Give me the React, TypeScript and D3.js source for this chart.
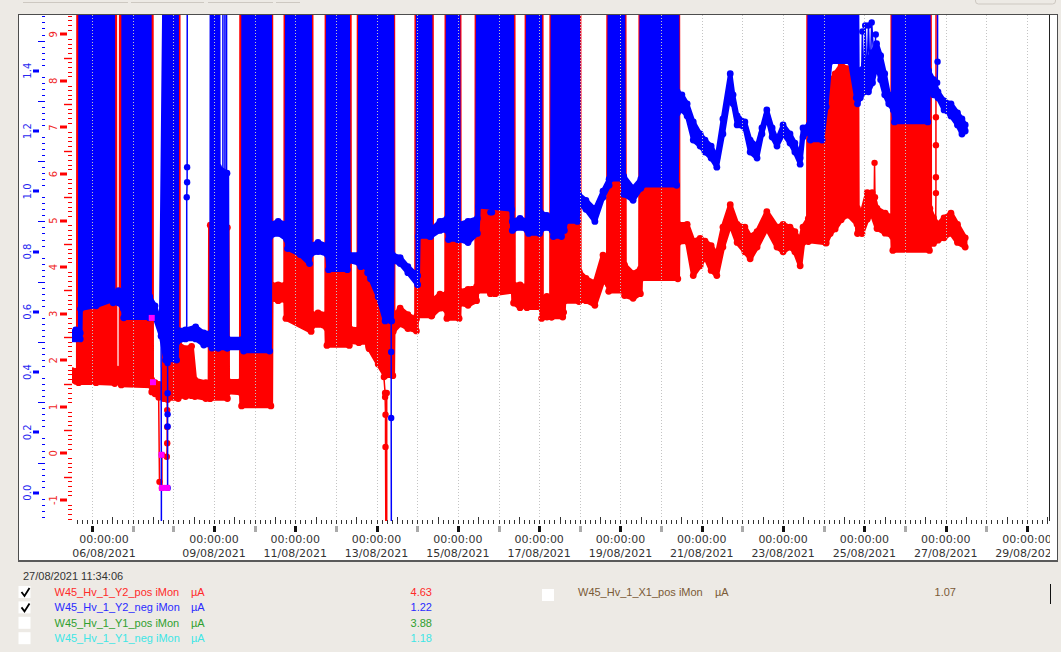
import React, { useEffect, useRef } from 'react';
import * as d3 from 'd3';

const W = 1061;
const H = 652;

// time stamp of the cursor and the labelled days on the time axis (day of August 2021)
const stamp = '27/08/2021 11:34:06';
const labelDays = [6, 9, 11, 13, 15, 17, 19, 21, 23, 25, 27, 29];
const blueTickValues = [0, 0.2, 0.4, 0.6, 0.8, 1.0, 1.2, 1.4];
const redTickValues = [-1, 0, 1, 2, 3, 4, 5, 6, 7, 8, 9];

// [day of August, low, high] envelope of the noisy trace; high above the axis top = spike off scale
const redBand = [
  [5.51, 1.58, 1.78], [5.6, 1.55, 1.76], [5.66, 1.56, 1.78], [5.67, 1.52, 12], [6.1, 1.52, 12],
  [6.56, 1.5, 12], [6.57, 1.55, 1.82], [6.71, 1.55, 1.82], [6.72, 1.47, 12], [7.46, 1.45, 12],
  [7.47, 1.32, 1.58], [7.55, 1.28, 1.52], [7.65, 1.24, 1.48], [7.77, 1.18, 1.45], [7.78, 1.18, 12],
  [8.12, 1.18, 12], [8.13, 1.22, 2.35], [8.3, 1.22, 2.25], [8.45, 1.24, 2.3], [8.53, 1.22, 1.58],
  [8.8, 1.18, 1.52], [8.9, 1.18, 1.52], [8.91, 1.18, 4.9], [9.33, 1.18, 4.85], [9.34, 1.32, 1.55],
  [9.67, 1.3, 1.55], [9.68, 1.02, 12], [10.4, 1.02, 12], [10.41, 3.32, 3.62], [10.58, 3.28, 3.62],
  [10.76, 3.3, 3.62], [10.77, 2.9, 12], [11.39, 2.62, 12], [11.4, 2.72, 2.98], [11.56, 2.77, 3.02],
  [11.77, 2.7, 2.98], [11.78, 2.32, 12], [12.33, 2.32, 12], [12.34, 2.4, 2.68], [12.56, 2.38, 2.66],
  [12.57, 2.38, 12], [12.79, 2.38, 12], [12.8, 2.32, 2.52], [12.81, 2.27, 2.48], [12.82, 2.25, 12],
  [13.04, 1.92, 12], [13.21, 1.67, 12], [13.4, 1.67, 12], [13.41, 2.62, 2.92], [13.58, 2.78, 3.12],
  [13.77, 2.68, 2.98], [13.98, 2.63, 2.88], [13.99, 2.95, 12], [14.35, 2.95, 12], [14.36, 2.96, 3.28],
  [14.56, 3.12, 3.42], [14.72, 3.08, 3.42], [14.73, 2.9, 12], [15.03, 2.9, 12], [15.04, 3.22, 3.48],
  [15.25, 3.18, 3.52], [15.46, 3.28, 3.58], [15.47, 3.48, 12], [15.79, 3.48, 12], [15.8, 3.43, 5.25],
  [15.91, 3.43, 5.25], [15.92, 3.43, 12], [16.36, 3.48, 12], [16.37, 3.23, 3.62], [16.53, 3.13, 3.62],
  [16.69, 3.18, 3.58], [16.7, 3.13, 12], [17.05, 3.13, 12], [17.06, 2.9, 3.33], [17.19, 2.93, 3.37],
  [17.3, 2.93, 3.33], [17.31, 2.93, 12], [17.58, 2.93, 12], [17.59, 3.03, 3.37], [17.6, 3.03, 3.37],
  [17.61, 3.26, 12], [17.98, 3.26, 12], [17.99, 3.28, 3.9], [18.15, 3.28, 3.76], [18.37, 3.18, 3.66],
  [18.57, 3.7, 4.26], [18.7, 3.63, 4.16], [18.71, 3.48, 12], [19.09, 3.48, 12], [19.1, 3.39, 4.05],
  [19.31, 3.33, 3.86], [19.49, 3.43, 3.96], [19.5, 3.75, 12], [20.41, 3.75, 12], [20.42, 4.53, 4.92],
  [20.64, 4.55, 4.92], [20.79, 3.82, 4.56], [20.96, 4.03, 4.62], [21.08, 4.23, 4.56], [21.23, 3.93, 4.46],
  [21.37, 3.82, 4.26], [21.52, 4.43, 4.86], [21.7, 4.93, 5.34], [21.87, 4.53, 4.92], [22.06, 4.33, 4.86],
  [22.19, 4.18, 4.66], [22.36, 4.43, 4.76], [22.6, 4.83, 5.19], [22.85, 4.43, 4.86], [23.0, 4.33, 4.92],
  [23.17, 4.43, 4.86], [23.29, 4.33, 4.76], [23.42, 4.03, 4.56], [23.49, 4.53, 4.86], [23.62, 4.55, 5.04],
  [23.63, 4.56, 12], [24.05, 4.52, 12], [24.06, 4.52, 7.4], [24.16, 4.72, 7.98], [24.28, 4.82, 8.15],
  [24.43, 5.02, 8.34], [24.6, 5.12, 8.26], [24.82, 4.92, 8.15], [24.83, 4.72, 5.26], [24.94, 4.72, 5.16],
  [25.07, 5.03, 5.6], [25.19, 5.13, 5.6], [25.31, 4.83, 5.26], [25.51, 4.73, 5.16], [25.69, 4.66, 5.06],
  [25.7, 4.36, 12], [26.6, 4.36, 12], [26.61, 4.53, 5.26], [26.7, 4.51, 5.06], [26.81, 4.58, 4.92],
  [26.96, 4.63, 5.06], [27.13, 4.73, 5.16], [27.29, 4.53, 4.92], [27.48, 4.43, 4.63],
];

const blueBand = [
  [5.51, 0.51, 0.53], [5.6, 0.51, 0.54], [5.71, 0.51, 0.53], [5.72, 0.61, 2], [6.1, 0.62, 2],
  [6.51, 0.64, 2], [6.52, 0.63, 0.66], [6.65, 0.63, 0.67], [6.77, 0.61, 0.65], [6.78, 0.58, 2],
  [7.41, 0.58, 2], [7.42, 0.61, 0.65], [7.55, 0.58, 0.62], [7.7, 0.52, 0.55], [7.81, 0.44, 2],
  [8.08, 0.44, 2], [8.09, 0.5, 0.54], [8.3, 0.51, 0.54], [8.55, 0.51, 0.55], [8.75, 0.49, 0.53],
  [8.94, 0.49, 0.53], [8.95, 0.48, 2], [9.1, 0.48, 2], [9.11, 0.48, 1.08], [9.32, 0.48, 1.06],
  [9.33, 0.48, 0.51], [9.72, 0.48, 0.51], [9.73, 0.47, 2], [10.37, 0.47, 2], [10.38, 0.85, 0.89],
  [10.58, 0.86, 0.9], [10.79, 0.84, 0.89], [10.81, 0.81, 2], [11.12, 0.79, 2], [11.35, 0.76, 2],
  [11.37, 0.79, 0.82], [11.56, 0.8, 0.83], [11.79, 0.79, 0.82], [11.82, 0.74, 2], [12.28, 0.74, 2],
  [12.31, 0.77, 0.79], [12.58, 0.76, 0.79], [12.61, 0.75, 2], [12.75, 0.75, 2], [12.78, 0.73, 0.76],
  [12.85, 0.71, 2], [13.04, 0.65, 2], [13.21, 0.57, 2], [13.37, 0.57, 2], [13.39, 0.77, 0.79],
  [13.58, 0.76, 0.78], [13.77, 0.73, 0.75], [14.01, 0.69, 0.72], [14.03, 0.85, 2], [14.31, 0.85, 2],
  [14.33, 0.85, 0.87], [14.56, 0.87, 0.9], [14.74, 0.87, 0.91], [14.77, 0.84, 2], [14.99, 0.84, 2],
  [15.02, 0.84, 0.89], [15.25, 0.83, 0.9], [15.48, 0.86, 0.91], [15.51, 0.95, 2], [16.32, 0.94, 2],
  [16.34, 0.87, 0.9], [16.53, 0.88, 0.91], [16.71, 0.87, 0.9], [16.74, 0.86, 2], [17.01, 0.86, 2],
  [17.03, 0.87, 0.93], [17.19, 0.88, 0.92], [17.32, 0.87, 0.91], [17.35, 0.85, 2], [17.55, 0.85, 2],
  [17.58, 0.87, 0.91], [17.62, 0.87, 0.91], [17.65, 0.9, 2], [17.94, 0.9, 2], [17.97, 0.96, 0.99],
  [18.15, 0.94, 0.97], [18.37, 0.9, 0.94], [18.57, 0.98, 1.0], [18.72, 1.02, 1.04], [18.75, 1.04, 2],
  [19.05, 1.04, 2], [19.08, 0.99, 1.05], [19.31, 0.97, 1.01], [19.5, 1.01, 1.04], [19.54, 1.02, 2],
  [20.38, 1.02, 2], [20.4, 1.26, 1.33], [20.51, 1.27, 1.32], [20.64, 1.25, 1.29], [20.79, 1.17, 1.23],
  [20.96, 1.15, 1.19], [21.08, 1.13, 1.17], [21.23, 1.11, 1.15], [21.37, 1.08, 1.11], [21.52, 1.19, 1.24],
  [21.7, 1.34, 1.39], [21.77, 1.29, 1.32], [21.87, 1.22, 1.25], [22.06, 1.21, 1.23], [22.19, 1.13, 1.17],
  [22.36, 1.11, 1.15], [22.48, 1.19, 1.21], [22.6, 1.25, 1.27], [22.73, 1.18, 1.21], [22.85, 1.15, 1.17],
  [23.0, 1.19, 1.22], [23.17, 1.16, 1.19], [23.29, 1.13, 1.16], [23.42, 1.09, 1.11], [23.49, 1.18, 1.21],
  [23.64, 1.2, 1.22], [23.67, 1.17, 2], [23.96, 1.17, 2], [24.06, 1.28, 2], [24.16, 1.43, 2],
  [24.65, 1.43, 2], [24.8, 1.31, 2], [24.83, 1.29, 1.39], [24.9, 1.31, 1.4], [25.0, 1.33, 1.42],
  [25.1, 1.33, 1.44], [25.2, 1.36, 1.46], [25.3, 1.42, 1.49], [25.4, 1.37, 1.45], [25.5, 1.32, 1.39],
  [25.6, 1.29, 1.32], [25.71, 1.27, 1.29], [25.74, 1.23, 2], [26.56, 1.23, 2], [26.58, 1.35, 1.4],
  [26.7, 1.32, 1.37], [26.81, 1.31, 1.33], [26.96, 1.27, 1.3], [27.13, 1.25, 1.29], [27.29, 1.22, 1.26],
  [27.4, 1.19, 1.24], [27.48, 1.2, 1.22],
];

// single excursions drawn as thin lines with markers [day, value]
const redTraces = [
  [[7.64, 1.2], [7.66, -0.61], [7.72, -0.74], [7.72, -0.03], [7.84, -0.07], [7.85, 0.22], [7.85, 0.57], [7.85, 0.93], [7.85, 1.3], [7.86, 1.15]],
  [[13.16, 1.86], [13.18, 1.64], [13.21, 1.3], [13.21, 1.21], [13.22, 0.83], [13.22, 0.14], [13.23, -2]],
  [[13.25, 1.3], [13.25, -2]],
  [[25.24, 5.4], [25.25, 6.24], [25.26, 5.5]],
  [[26.75, 4.6], [26.76, 5.59], [26.76, 5.93], [26.76, 6.62], [26.76, 7.22], [26.765, 12]],
];

const blueTraces = [
  [[7.7, 0.52], [7.71, -0.3]],
  [[7.86, 0.016], [7.86, 0.22], [7.86, 0.26], [7.86, 0.33], [7.86, 0.43]],
  [[8.33, 0.52], [8.33, 0.98], [8.34, 1.03], [8.34, 1.08], [8.345, 2]],
  [[9.22, 0.5], [9.22, 2]],
  [[9.27, 0.5], [9.27, 2]],
  [[9.31, 0.5], [9.31, 2]],
  [[13.36, 0.57], [13.36, 0.467], [13.36, 0.248], [13.365, -0.3]],
  [[15.8, 0.93], [15.8, 2]],
  [[15.84, 0.93], [15.84, 2]],
  [[24.93, 1.36], [24.95, 1.53], [24.98, 1.34], [25.02, 1.55], [25.06, 1.36], [25.1, 1.55], [25.14, 1.38], [25.18, 1.56], [25.24, 1.42], [25.28, 1.52]],
  [[26.79, 1.36], [26.8, 1.43], [26.8, 2]],
];

// selected samples (red axis units)
const magentaPts = [[7.47, 2.91], [7.5, 1.53], [7.71, -0.03], [7.72, -0.74], [7.85, -0.74]];

// legend
const legendNames = ['W45_Hv_1_Y2_pos iMon', 'W45_Hv_1_Y2_neg iMon', 'W45_Hv_1_Y1_pos iMon', 'W45_Hv_1_Y1_neg iMon'];
const legendValues = ['4.63', '1.22', '3.88', '1.18'];
const legendColors = ['#ff2a2a', '#2a2aff', '#2f9f2f', '#3ee6e6'];
const legendChecked = [true, true, false, false];
const extraName = 'W45_Hv_1_X1_pos iMon';
const extraValue = '1.07';

const dayToDate = (d: number) => new Date(new Date(2021, 7, 1).getTime() + (d - 1) * 864e5);

export default function App() {
  const ref = useRef<SVGSVGElement>(null);

  useEffect(() => {
    const svg = d3.select(ref.current);
    svg.selectAll('*').remove();

    svg.append('rect').attr('width', W).attr('height', H).attr('fill', '#edeae5');

    // toolbar remnants at the top
    const tb = svg.append('g').attr('fill', 'none').attr('stroke', '#cdc8c1');
    [[23, 128], [131, 204], [208, 273], [276, 300]].forEach(([a, b]) =>
      tb.append('line').attr('x1', a).attr('x2', b).attr('y1', 2.5).attr('y2', 2.5)
    );
    tb.append('rect').attr('x', 975.5).attr('y', -6).attr('width', 80).attr('height', 10).attr('rx', 3);

    // chart frame
    svg.append('rect').attr('x', 18.5).attr('y', 14.5).attr('width', 1039).attr('height', 546)
      .attr('fill', '#fff').attr('stroke', '#4d4d4d');
    svg.append('line').attr('x1', 18).attr('x2', 1058).attr('y1', 561).attr('y2', 561)
      .attr('stroke', '#5a5a5a').attr('stroke-width', 2);

    const defs = svg.append('defs');
    defs.append('clipPath').attr('id', 'plotClip').append('rect')
      .attr('x', 72).attr('y', 15).attr('width', 977).attr('height', 506);
    defs.append('clipPath').attr('id', 'labClip').append('rect')
      .attr('x', 19).attr('y', 15).attr('width', 1031).attr('height', 546);

    const x = d3.scaleTime().domain([dayToDate(6), dayToDate(29)]).range([92, 1027]);
    const yB = d3.scaleLinear().domain([0, 1.4]).range([492.7, 70.7]);
    const yR = d3.scaleLinear().domain([-1, 9]).range([500, 34.3]);

    const plot = svg.append('g').attr('clip-path', 'url(#plotClip)');

    const drawSeries = (band: number[][], traces: number[][][], y: any, color: string) => {
      const area = d3.area<number[]>()
        .x((d) => x(dayToDate(d[0])))
        .y0((d) => y(d[1]))
        .y1((d) => y(d[2]));
      plot.append('path').datum(band).attr('d', area)
        .attr('fill', color).attr('stroke', color).attr('stroke-width', 4.5).attr('stroke-linejoin', 'round');
      const pts = band.flatMap((r) => [[r[0], r[1]], [r[0], r[2]]]);
      plot.append('g').attr('fill', color).selectAll('circle').data(pts).join('circle')
        .attr('cx', (d) => x(dayToDate(d[0])))
        .attr('cy', (d) => y(d[1]))
        .attr('r', 3.4);
      const line = d3.line<number[]>().x((d) => x(dayToDate(d[0]))).y((d) => y(d[1]));
      traces.forEach((t) => {
        plot.append('path').datum(t).attr('d', line)
          .attr('fill', 'none').attr('stroke', color).attr('stroke-width', 1.5);
        plot.append('g').attr('fill', color).selectAll('circle').data(t).join('circle')
          .attr('cx', (d) => x(dayToDate(d[0])))
          .attr('cy', (d) => y(d[1]))
          .attr('r', 3.2);
      });
    };

    drawSeries(redBand, redTraces, yR, '#ff0000');
    drawSeries(blueBand, blueTraces, yB, '#0000ff');

    plot.append('g').attr('fill', '#ff00ff').selectAll('rect').data(magentaPts).join('rect')
      .attr('x', (d) => x(dayToDate(d[0])) - 3)
      .attr('y', (d) => yR(d[1]) - 3)
      .attr('width', 6).attr('height', 6);

    // daily dotted grid, drawn over the traces
    const days = d3.timeDay.range(dayToDate(6), dayToDate(29.5));
    svg.append('g').attr('stroke', '#c4c4c4').attr('stroke-dasharray', '1,2')
      .selectAll('line').data(days).join('line')
      .attr('x1', (d) => Math.round(x(d)) + 0.5).attr('x2', (d) => Math.round(x(d)) + 0.5)
      .attr('y1', 15).attr('y2', 518);

    // right edge of the plot
    svg.append('line').attr('x1', 1049.5).attr('x2', 1049.5).attr('y1', 15).attr('y2', 521)
      .attr('stroke', '#222');

    // time axis
    const hours = d3.timeHour.every(3)!.range(dayToDate(5.5), dayToDate(29.95))
      .filter((h) => x(h) > 73 && x(h) < 1049);
    const xa = svg.append('g');
    xa.append('g').attr('stroke', '#333').selectAll('line').data(hours).join('line')
      .attr('x1', (d) => Math.round(x(d)) + 0.5).attr('x2', (d) => Math.round(x(d)) + 0.5)
      .attr('y1', (d) => (d.getHours() === 12 ? 517 : 520)).attr('y2', 524);
    const labelled = new Set(labelDays);
    xa.append('g').selectAll('rect').data(hours.filter((h) => h.getHours() === 0)).join('rect')
      .attr('x', (d) => Math.round(x(d)) - 1).attr('y', 526).attr('width', 3).attr('height', 6)
      .attr('fill', (d) => (labelled.has(d.getDate()) ? '#111' : '#aaa'));
    const xl = svg.append('g').attr('clip-path', 'url(#labClip)')
      .attr('font-family', '"DejaVu Sans", sans-serif').attr('font-size', 11)
      .attr('fill', '#333').attr('text-anchor', 'middle');
    labelDays.forEach((d) => {
      const cx = Math.max(x(dayToDate(d)), 104);
      xl.append('text').attr('x', cx).attr('y', 543).text('00:00:00');
      xl.append('text').attr('x', cx).attr('y', 556.5).text(`${String(d).padStart(2, '0')}/08/2021`);
    });

    // blue (left outer) axis
    const ba = svg.append('g').attr('fill', '#0000ff').attr('stroke', '#0000ff');
    d3.range(-4, 80).forEach((i) => {
      const yy = Math.round(yB(i * 0.02)) + 0.5;
      if (i % 10 === 0) ba.append('rect').attr('x', 33).attr('y', yy - 2).attr('width', 6).attr('height', 3).attr('stroke', 'none');
      else if (i % 5 === 0) ba.append('line').attr('x1', 38).attr('x2', 45).attr('y1', yy).attr('y2', yy);
      else ba.append('line').attr('x1', 42).attr('x2', 45).attr('y1', yy).attr('y2', yy);
    });
    svg.append('g').attr('font-family', '"DejaVu Sans", sans-serif').attr('font-size', 10)
      .attr('fill', '#2828f0').attr('text-anchor', 'middle')
      .selectAll('text').data(blueTickValues).join('text')
      .attr('transform', (v) => `translate(30.5,${yB(v)}) rotate(-90)`)
      .text((v) => v.toFixed(1));

    // red (left inner) axis
    const ra = svg.append('g').attr('fill', '#ff0000').attr('stroke', '#ff0000');
    d3.range(-14, 95).forEach((i) => {
      const yy = Math.round(yR(i / 10)) + 0.5;
      if (i % 10 === 0) ra.append('rect').attr('x', 60).attr('y', yy - 2).attr('width', 7).attr('height', 3).attr('stroke', 'none');
      else if (i % 5 === 0) ra.append('line').attr('x1', 64).attr('x2', 72).attr('y1', yy).attr('y2', yy).attr('stroke-width', 1.4);
      else ra.append('line').attr('x1', 68).attr('x2', 72).attr('y1', yy).attr('y2', yy);
    });
    svg.append('g').attr('font-family', '"DejaVu Sans", sans-serif').attr('font-size', 10)
      .attr('fill', '#f02828').attr('text-anchor', 'middle')
      .selectAll('text').data(redTickValues).join('text')
      .attr('transform', (v) => `translate(57,${yR(v)}) rotate(-90)`)
      .text((v) => String(v));

    // legend / status area
    const lg = svg.append('g').attr('font-family', '"Liberation Sans", Arial, sans-serif').attr('font-size', 11);
    lg.append('text').attr('x', 23).attr('y', 580).attr('fill', '#333').text(stamp);
    legendNames.forEach((name, i) => {
      const base = 596 + i * 15.4;
      lg.append('rect').attr('x', 18.5).attr('y', base - 10).attr('width', 12).attr('height', 12).attr('fill', '#fff');
      if (legendChecked[i]) {
        lg.append('path').attr('d', `M21.5,${base - 4} L24.5,${base} L29.5,${base - 8}`)
          .attr('fill', 'none').attr('stroke', '#000').attr('stroke-width', 1.8);
      }
      lg.append('text').attr('x', 54.5).attr('y', base).attr('fill', legendColors[i]).text(name);
      lg.append('text').attr('x', 191).attr('y', base).attr('fill', legendColors[i]).text('µA');
      lg.append('text').attr('x', 432).attr('y', base).attr('fill', legendColors[i]).attr('text-anchor', 'end').text(legendValues[i]);
    });
    lg.append('rect').attr('x', 542).attr('y', 589).attr('width', 12).attr('height', 12).attr('fill', '#fff');
    lg.append('text').attr('x', 578).attr('y', 596).attr('fill', '#7a5a36').text(extraName);
    lg.append('text').attr('x', 715).attr('y', 596).attr('fill', '#7a5a36').text('µA');
    lg.append('text').attr('x', 956).attr('y', 596).attr('fill', '#7a5a36').attr('text-anchor', 'end').text(extraValue);
    lg.append('line').attr('x1', 1050.5).attr('x2', 1050.5).attr('y1', 584).attr('y2', 604).attr('stroke', '#111');
  }, []);

  return (
    <svg ref={ref} width={W} height={H} style={{ position: 'absolute', left: 0, top: 0, display: 'block' }} />
  );
}
